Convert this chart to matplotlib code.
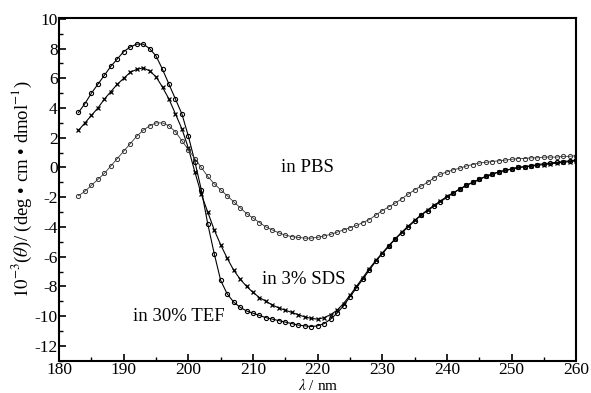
import numpy as np
import matplotlib.pyplot as plt

plt.rcParams['font.family'] = ['Liberation Serif', 'DejaVu Serif']
plt.rcParams['mathtext.fontset'] = 'stix'
plt.rcParams['axes.unicode_minus'] = False

wavelength = list(range(183, 261))

tef = [3.7, 4.3, 5.0, 5.6, 6.2, 6.8, 7.3, 7.8, 8.1, 8.3,
       8.3, 8.0, 7.5, 6.6, 5.6, 4.6, 3.6, 2.1, 0.4, -1.5,
       -3.8, -5.8, -7.6, -8.5, -9.05, -9.4, -9.65, -9.8, -9.95, -10.1,
       -10.2, -10.3, -10.4, -10.5, -10.6, -10.65, -10.7, -10.65, -10.5, -10.2,
       -9.8, -9.3, -8.7, -8.1, -7.5, -6.9, -6.3, -5.8, -5.3, -4.8,
       -4.4, -4.0, -3.6, -3.2, -2.9, -2.6, -2.3, -2.0, -1.7, -1.45,
       -1.2, -1.0, -0.8, -0.6, -0.45, -0.3, -0.2, -0.1, 0.0, 0.05,
       0.1, 0.2, 0.25, 0.3, 0.35, 0.4, 0.45, 0.5]

sds = [2.5, 3.0, 3.5, 4.0, 4.6, 5.1, 5.6, 6.0, 6.4, 6.6,
       6.7, 6.5, 6.1, 5.4, 4.6, 3.6, 2.6, 1.3, -0.3, -1.8,
       -3.0, -4.2, -5.2, -6.1, -6.9, -7.5, -8.0, -8.4, -8.75, -9.0,
       -9.25, -9.45, -9.6, -9.75, -9.9, -10.05, -10.15, -10.2, -10.1, -9.9,
       -9.6, -9.15, -8.6, -8.0, -7.4, -6.8, -6.25, -5.75, -5.25, -4.8,
       -4.35, -3.95, -3.55, -3.2, -2.85, -2.55, -2.25, -1.95, -1.7, -1.45,
       -1.2, -1.0, -0.8, -0.6, -0.45, -0.3, -0.2, -0.1, 0.0, 0.05,
       0.1, 0.15, 0.2, 0.25, 0.3, 0.35, 0.4, 0.45]

pbs = [-1.9, -1.6, -1.2, -0.8, -0.4, 0.1, 0.6, 1.1, 1.6, 2.1,
       2.5, 2.8, 3.0, 3.0, 2.8, 2.4, 1.8, 1.2, 0.6, 0.0,
       -0.6, -1.1, -1.5, -1.9, -2.3, -2.7, -3.1, -3.4, -3.7, -4.0,
       -4.2, -4.4, -4.55, -4.65, -4.7, -4.75, -4.75, -4.7, -4.6, -4.5,
       -4.35, -4.2, -4.05, -3.9, -3.7, -3.5, -3.2, -2.9, -2.65, -2.4,
       -2.1, -1.8, -1.5, -1.25, -1.0, -0.7, -0.45, -0.3, -0.15, -0.05,
       0.1, 0.2, 0.3, 0.35, 0.4, 0.45, 0.5, 0.55, 0.6, 0.6,
       0.65, 0.65, 0.7, 0.7, 0.7, 0.75, 0.75, 0.8]

fig = plt.figure(figsize=(5.91, 3.93), dpi=100)
ax = fig.add_axes([0.1, 0.082, 0.875, 0.872])

ax.plot(wavelength, tef, color='black', lw=0.8, marker='o', ms=3,
        mfc='none', mew=0.8)
ax.plot(wavelength, sds, color='black', lw=0.8, marker='x', ms=3.5, mew=0.9)
ax.plot(wavelength, pbs, color='#333333', lw=0.6, marker='o', ms=3,
        mfc='none', mew=0.7)

ax.text(214.3, 0, 'in PBS', fontsize=13.5, va='center')
ax.text(211.4, -7.5, 'in 3% SDS', fontsize=13.5, va='center')
ax.text(191.5, -10.0, 'in 30% TEF', fontsize=13.5, va='center')

ax.set_xlim(180, 260)
ax.set_ylim(-12.9, 10.05)
ax.set_xticks(range(180, 261, 10))
ax.set_yticks(range(-12, 11, 2))
ax.set_xticks(range(185, 260, 10), minor=True)
ax.set_yticks(range(-13, 10, 2), minor=True)
ax.tick_params(direction='in', length=5, width=1.2, labelsize=12.5, pad=1)
ax.tick_params(which='minor', direction='in', length=3, width=1)
for s in ax.spines.values():
    s.set_linewidth(1.5)

ax.set_ylabel(r'$10^{-3}$($\theta$)/ (deg • cm • dmol$^{-1}$)', fontsize=13.5,
              labelpad=0)
ax.set_xlabel(r'$\lambda$ / nm', fontsize=11)
ax.xaxis.set_label_coords(0.5, -0.05)

fig.savefig('out.png', dpi=100)
